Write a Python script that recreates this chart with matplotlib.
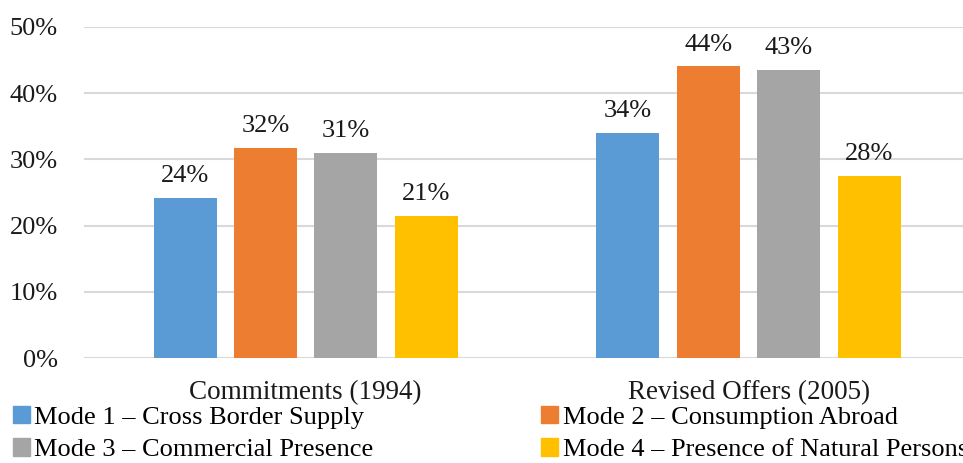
import matplotlib
matplotlib.use('Agg')
import matplotlib.pyplot as plt
import matplotlib.patches as mpatches
import numpy as np
from matplotlib.ticker import FuncFormatter, MultipleLocator

plt.rcParams['font.family'] = ['Liberation Serif', 'DejaVu Serif']

CATEGORIES = ['Commitments (1994)', 'Revised Offers (2005)']
MODES = [
    'Mode 1 – Cross Border Supply',
    'Mode 2 – Consumption Abroad',
    'Mode 3 – Commercial Presence',
    'Mode 4 – Presence of Natural Persons',
]
MODE1 = [24.1, 34.0]
MODE2 = [31.7, 44.0]
MODE3 = [30.9, 43.4]
MODE4 = [21.4, 27.5]
COLORS = ['#5B9BD5', '#ED7D31', '#A5A5A5', '#FFC000']

FS = 19
W, H = 963, 463

fig = plt.figure(figsize=(W / 100, H / 100), dpi=100, facecolor='white')
ax = fig.add_axes([84.3 / W, (H - 358.3) / H, (970 - 84.3) / W, (358.3 - 26.7) / H])

x = np.arange(len(CATEGORIES))
step = 80.5 / 443
width = 63.0 / 443
series = [MODE1, MODE2, MODE3, MODE4]

for i, (vals, col) in enumerate(zip(series, COLORS)):
    xs = x + (i - 1.5) * step
    bars = ax.bar(xs, vals, width=width, color=col, zorder=3)
    for b, v in zip(bars, vals):
        ax.annotate(f'{v:.0f}%', (b.get_x() + b.get_width() / 2, v),
                    xytext=(0, 11.5), textcoords='offset points',
                    ha='center', va='baseline', fontsize=FS, color='#1a1a1a')

ax.set_xlim(-0.5, 1.5)
ax.set_ylim(0, 50)
ax.yaxis.set_major_locator(MultipleLocator(10))
ax.yaxis.set_major_formatter(FuncFormatter(lambda v, p: f'{v:.0f}%'))
ax.grid(axis='y', color='#D9D9D9', linewidth=1.5, zorder=0)
ax.set_axisbelow(True)
for s in ax.spines.values():
    s.set_visible(False)
ax.tick_params(axis='both', length=0, labelsize=FS, colors='#1a1a1a')
ax.tick_params(axis='y', pad=19)
ax.tick_params(axis='x', pad=16)
ax.set_xticks(x)
ax.set_xticklabels(CATEGORIES, fontsize=19.5)

# legend is filled column by column, so order handles to read across rows
handles = [mpatches.Patch(color=c, label=m) for c, m in zip(COLORS, MODES)]
handles = [handles[0], handles[2], handles[1], handles[3]]
fig.legend(handles=handles, ncol=2, loc='upper left',
           bbox_to_anchor=(13 / W, (H - 406) / H),
           frameon=False, fontsize=FS, handlelength=0.64, handleheight=0.64,
           handletextpad=0.17, columnspacing=6.35, labelspacing=0.36,
           borderaxespad=0, borderpad=0)

fig.savefig('out.png', dpi=100, facecolor='white')
